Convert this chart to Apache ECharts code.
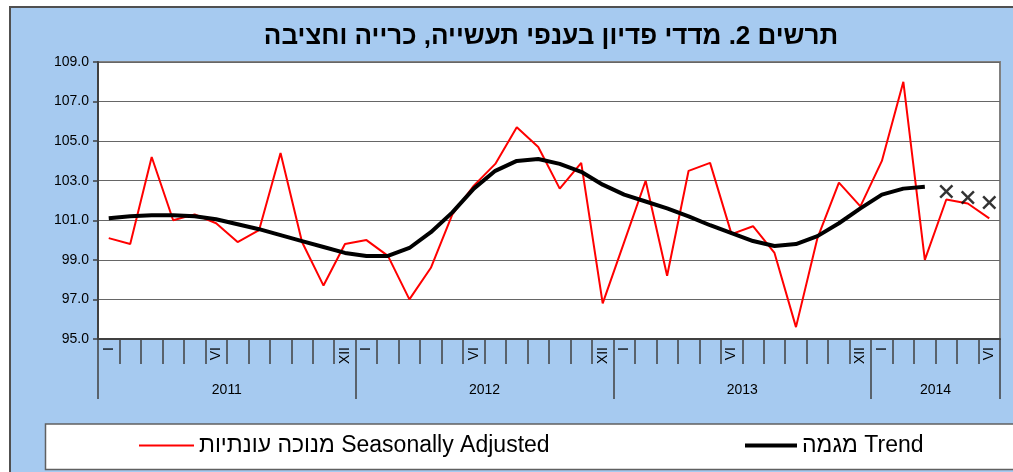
<!DOCTYPE html>
<html>
<head>
<meta charset="utf-8">
<script src="https://cdn.jsdelivr.net/npm/echarts@6/dist/echarts.min.js"></script>
<style>
  html, body { margin: 0; padding: 0; background: #fff; overflow: hidden; }
  #chart { width: 1013px; height: 472px; }
</style>
</head>
<body>
<div id="chart"></div>
<script>
// נתונים
const years = ["2011", "2012", "2013", "2014"];
const romanMonths = ["I", "II", "III", "IV", "V", "VI", "VII", "VIII", "IX", "X", "XI", "XII"];
const monthsInLastYear = 6;
const shownMonths = ["I", "VI", "XII"];

const seasonallyAdjusted = [
  100.1, 99.8, 104.2, 101.0, 101.3, 100.85, 99.9, 100.5, 104.4, 99.9, 97.7, 99.8,
  100.0, 99.2, 97.0, 98.6, 101.3, 102.75, 103.85, 105.7, 104.7, 102.6, 103.9, 96.8,
  99.9, 103.0, 98.2, 103.5, 103.9, 100.3, 100.7, 99.35, 95.6, 100.1, 102.9, 101.7,
  104.0, 108.0, 99.0, 102.05, 101.85, 101.1
];

const trend = [
  101.1, 101.2, 101.25, 101.25, 101.2, 101.05, 100.8, 100.55, 100.25, 99.95, 99.65, 99.35,
  99.2, 99.2, 99.6, 100.4, 101.4, 102.6, 103.5, 104.0, 104.1, 103.85, 103.45, 102.8,
  102.3, 101.95, 101.6, 101.2, 100.75, 100.35, 99.95, 99.7, 99.8, 100.2, 100.85, 101.6,
  102.3, 102.6, 102.7
];

// תחזית המגמה (סימני X) לחודשים IV-VI 2014
const trendForecastMonths = ["IV-2014", "V-2014", "VI-2014"];
const trendForecast = [102.45, 102.15, 101.9];

const yMin = 95, yMax = 109, yStep = 2;

const titleText = "תרשים 2. מדדי פדיון בענפי תעשייה, כרייה וחציבה";
const saName = "מנוכה עונתיות Seasonally Adjusted";
const trendName = "מגמה Trend";

// קטגוריות חודשיות
const categories = [];
const yearStarts = [];
years.forEach((y, i) => {
  yearStarts.push(categories.length);
  const n = i === years.length - 1 ? monthsInLastYear : 12;
  for (let m = 0; m < n; m++) categories.push(romanMonths[m] + "-" + y);
});
const yearBounds = yearStarts.concat([categories.length]);
const yearCenters = years.map((y, i) => (yearBounds[i] + yearBounds[i + 1]) / 2);

const bg = "#a6caf0";
const axisColor = "#404040";
const font = "Liberation Sans, Arial, sans-serif";

const chart = echarts.init(document.getElementById("chart"));

const option = {
  backgroundColor: "#fff",
  animation: false,
  textStyle: { fontFamily: font },
  title: {
    text: titleText,
    left: 546,
    top: 19,
    textAlign: "center",
    textStyle: { fontSize: 26, fontWeight: "bold", color: "#000", fontFamily: font },
  },
  graphic: [
    // רקע המסגרת
    {
      type: "rect",
      z: -10,
      silent: true,
      shape: { x: 10, y: 7, width: 1100, height: 520 },
      style: { fill: bg },
    },
    {
      type: "polyline",
      z: -9,
      silent: true,
      shape: { points: [[10, 480], [10, 7], [1013, 7]] },
      style: { stroke: "#505050", lineWidth: 2, fill: null },
    },
    // מסגרת המקרא
    {
      type: "rect",
      z: -5,
      silent: true,
      shape: { x: 45.5, y: 424, width: 1100, height: 45.5 },
      style: { fill: "#fff", stroke: "#606060", lineWidth: 1.5 },
    },
  ],
  legend: [
    {
      data: [{ name: saName, icon: "rect" }],
      left: 139,
      top: 434,
      padding: 0,
      itemWidth: 55,
      itemHeight: 2,
      selectedMode: false,
      textStyle: { fontSize: 23, color: "#000", fontFamily: font },
    },
    {
      data: [{ name: trendName, icon: "rect" }],
      left: 745,
      top: 434,
      padding: 0,
      itemWidth: 52,
      itemHeight: 4,
      selectedMode: false,
      textStyle: { fontSize: 23, color: "#000", fontFamily: font },
    },
  ],
  grid: {
    left: 98,
    right: 13,
    top: 62,
    bottom: 133,
    show: true,
    backgroundColor: "#fff",
    borderColor: "#808080",
    borderWidth: 2,
    outerBoundsMode: "none",
    containLabel: false,
  },
  xAxis: [
    {
      type: "category",
      data: categories,
      boundaryGap: true,
      axisLine: { lineStyle: { color: axisColor, width: 2 } },
      axisTick: { show: true, interval: 0, length: 25, lineStyle: { color: axisColor, width: 1.5 } },
      axisLabel: {
        interval: 0,
        rotate: 90,
        margin: 8,
        fontSize: 14,
        color: "#000",
        padding: [0, 0, 6, 0],
        formatter: (v) => {
          const m = v.split("-")[0];
          return shownMonths.includes(m) ? m : "";
        },
      },
      splitLine: { show: false },
    },
    {
      type: "value",
      position: "bottom",
      min: 0,
      max: categories.length,
      axisLine: { show: false },
      axisTick: {
        show: true,
        customValues: yearBounds,
        length: 60,
        lineStyle: { color: axisColor, width: 1.5 },
      },
      axisLabel: {
        customValues: yearCenters,
        margin: 44,
        fontSize: 14,
        color: "#000",
        formatter: (v) => years[yearCenters.indexOf(v)] || "",
      },
      splitLine: { show: false },
    },
  ],
  yAxis: {
    type: "value",
    min: yMin,
    max: yMax,
    interval: yStep,
    axisLine: { show: true, lineStyle: { color: axisColor, width: 2 } },
    axisTick: { show: true, length: 5, lineStyle: { color: axisColor, width: 1.5 } },
    axisLabel: {
      margin: 9,
      fontSize: 14,
      color: "#000",
      formatter: (v) => v.toFixed(1),
    },
    splitLine: { lineStyle: { color: "#666", width: 1 } },
  },
  series: [
    {
      name: saName,
      type: "line",
      data: seasonallyAdjusted,
      symbol: "none",
      lineStyle: { color: "#ff0000", width: 2 },
      itemStyle: { color: "#ff0000" },
      z: 2,
    },
    {
      name: trendName,
      type: "line",
      data: trend,
      symbol: "none",
      lineStyle: { color: "#000", width: 4 },
      itemStyle: { color: "#000" },
      z: 3,
    },
    {
      name: "forecast",
      type: "scatter",
      data: trendForecastMonths.map((m, i) => [m, trendForecast[i]]),
      symbol: "path://M0,2.5L2.5,0L10,7.5L17.5,0L20,2.5L12.5,10L20,17.5L17.5,20L10,12.5L2.5,20L0,17.5L7.5,10Z",
      symbolSize: 14,
      itemStyle: { color: "#000" },
      z: 4,
    },
  ],
};

chart.setOption(option);

window.addEventListener("resize", () => chart.resize());
</script>
</body>
</html>
